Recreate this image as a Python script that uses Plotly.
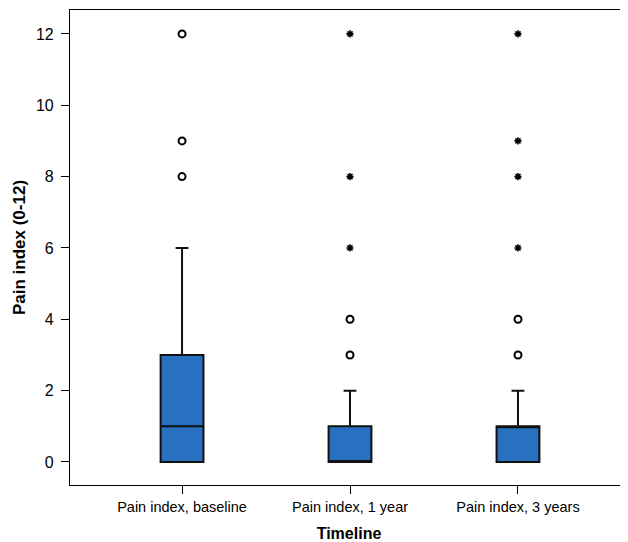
import plotly.graph_objects as go

categories = ["Pain index, baseline", "Pain index, 1 year", "Pain index, 3 years"]
q1 = [0, 0, 0]
median = [1, 0, 1]
q3 = [3, 1, 1]
lower_whisker = [0, 0, 0]
upper_whisker = [6, 2, 2]

# outliers (circles) and extremes (asterisks)
outlier_x = ["Pain index, baseline"] * 3 + ["Pain index, 1 year"] * 2 + ["Pain index, 3 years"] * 2
outlier_y = [8, 9, 12, 3, 4, 3, 4]
extreme_x = ["Pain index, 1 year"] * 3 + ["Pain index, 3 years"] * 4
extreme_y = [6, 8, 12, 6, 8, 9, 12]

y_ticks = [0, 2, 4, 6, 8, 10, 12]

fig = go.Figure()
fig.add_trace(go.Box(
    x=categories, q1=q1, median=median, q3=q3,
    lowerfence=lower_whisker, upperfence=upper_whisker,
    boxpoints=False, width=0.255, whiskerwidth=0.3,
    fillcolor="#2870c0", line=dict(color="#111111", width=2),
    showlegend=False, hoverinfo="skip",
))
fig.add_trace(go.Scatter(
    x=outlier_x, y=outlier_y, mode="markers",
    marker=dict(symbol="circle-open", size=7, color="#000000", line=dict(width=2)),
    showlegend=False,
))
fig.add_trace(go.Scatter(
    x=extreme_x, y=extreme_y, mode="markers",
    marker=dict(symbol="asterisk-open", size=6, color="#000000", line=dict(width=1.6)),
    showlegend=False,
))

fig.update_layout(
    width=620, height=534,
    margin=dict(l=62, r=0, t=2, b=57),
    paper_bgcolor="white", plot_bgcolor="white",
    font=dict(family="Liberation Sans, Arial, sans-serif", color="#000000"),
    xaxis=dict(
        type="category", range=[-0.667, 2.655],
        showline=True, linecolor="#000000", linewidth=1.2, mirror=True,
        ticks="outside", ticklen=8, tickcolor="#000000", tickwidth=1,
        tickfont=dict(size=14.5), showgrid=False, zeroline=False,
        title=dict(text="<b>Timeline</b>", font=dict(size=16), standoff=16),
    ),
    yaxis=dict(
        range=[-0.645, 12.67], tickvals=y_ticks,
        showline=True, linecolor="#000000", linewidth=1.2, mirror=True,
        ticks="outside", ticklen=8, tickcolor="#000000", tickwidth=1,
        ticklabelstandoff=4,
        tickfont=dict(size=16), showgrid=False, zeroline=False,
        title=dict(text="<b>Pain index (0-12)</b>", font=dict(size=17), standoff=5),
    ),
)

fig.write_html("out.html")
